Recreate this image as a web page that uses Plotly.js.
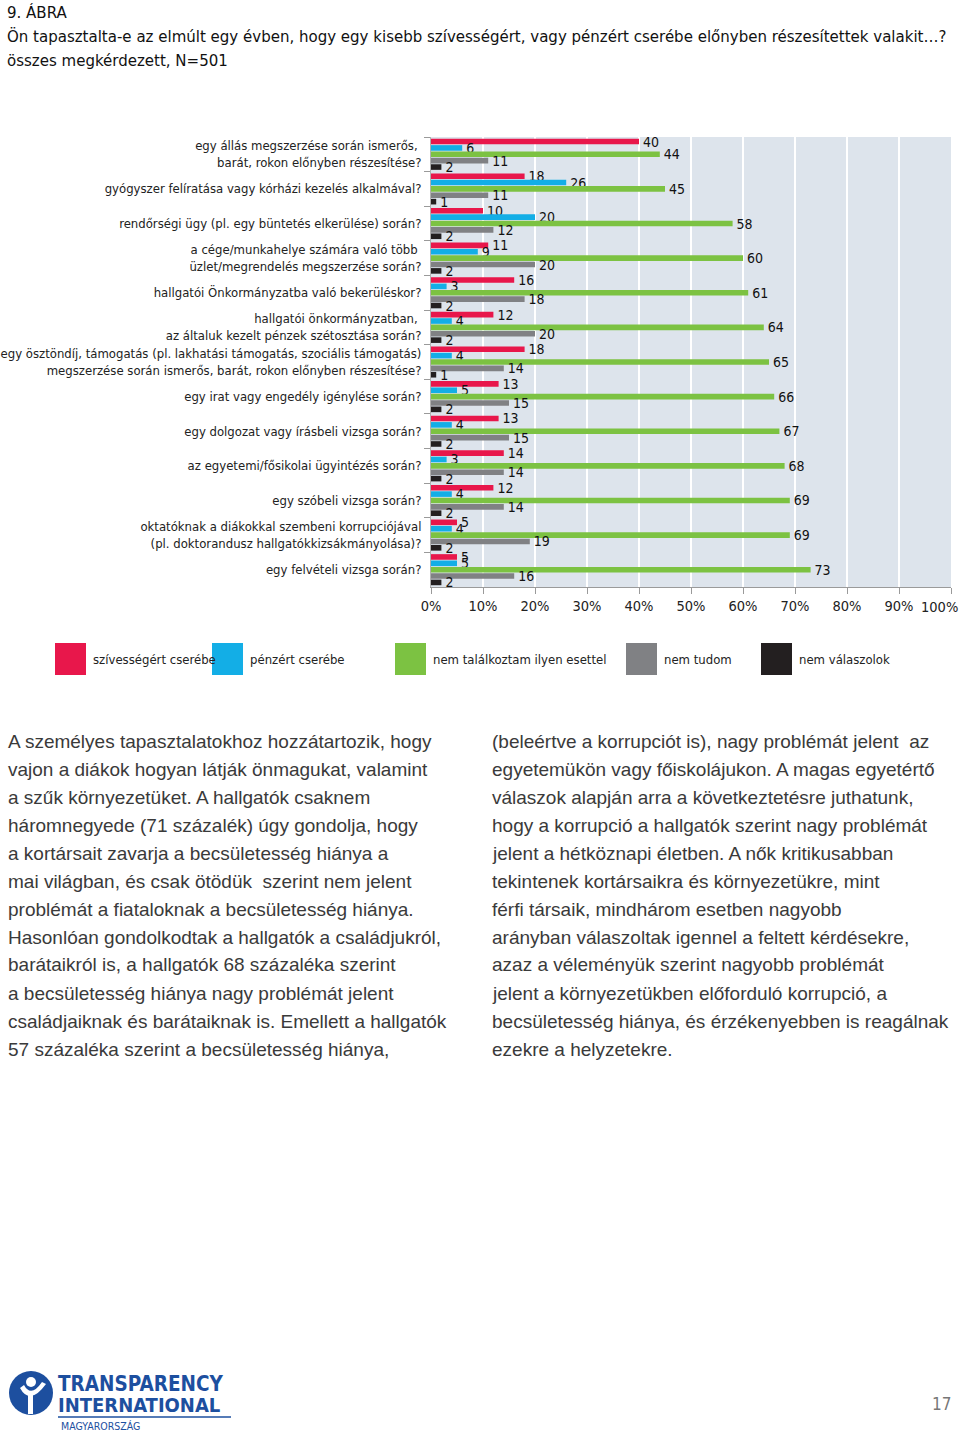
<!DOCTYPE html>
<html>
<head>
<meta charset="utf-8">
<script src="https://cdn.plot.ly/plotly-3.0.1.min.js"></script>
<style>html,body{margin:0;padding:0;background:#fff;}#chart{width:960px;height:1433px;}</style>
</head>
<body>
<div id="chart"></div>
<script>
// ---------- DATA ----------
const categories = [
  "egy állás megszerzése során ismerős, <br>barát, rokon előnyben részesítése?",
  "gyógyszer felíratása vagy kórházi kezelés alkalmával?",
  "rendőrségi ügy (pl. egy büntetés elkerülése) során?",
  "a cége/munkahelye számára való több <br>üzlet/megrendelés megszerzése során?",
  "hallgatói Önkormányzatba való bekerüléskor?",
  "hallgatói önkormányzatban, <br>az általuk kezelt pénzek szétosztása során?",
  "egy ösztöndíj, támogatás (pl. lakhatási támogatás, szociális támogatás)<br>megszerzése során ismerős, barát, rokon előnyben részesítése?",
  "egy irat vagy engedély igénylése során?",
  "egy dolgozat vagy írásbeli vizsga során?",
  "az egyetemi/fősikolai ügyintézés során?",
  "egy szóbeli vizsga során?",
  "oktatóknak a diákokkal szembeni korrupciójával<br>(pl. doktorandusz hallgatókkizsákmányolása)?",
  "egy felvételi vizsga során?"
];
const seriesNames = ["szívességért cserébe", "pénzért cserébe", "nem találkoztam ilyen esettel", "nem tudom", "nem válaszolok"];
const szivessegert = [40, 18, 10, 11, 16, 12, 18, 13, 13, 14, 12, 5, 5];
const penzert      = [6, 26, 20, 9, 3, 4, 4, 5, 4, 3, 4, 4, 5];
const nemTalalkoztam = [44, 45, 58, 60, 61, 64, 65, 66, 67, 68, 69, 69, 73];
const nemTudom     = [11, 11, 12, 20, 18, 20, 14, 15, 15, 14, 14, 19, 16];
const nemValaszolok = [2, 1, 2, 2, 2, 2, 1, 2, 2, 2, 2, 2, 2];
const xTickVals = [0, 10, 20, 30, 40, 50, 60, 70, 80, 90, 100];
const xTickText = ["0%", "10%", "20%", "30%", "40%", "50%", "60%", "70%", "80%", "90%", "100%"];

const titleLines = [
  "9. ÁBRA",
  "Ön tapasztalta-e az elmúlt egy évben, hogy egy kisebb szívességért, vagy pénzért cserébe előnyben részesítettek valakit…?",
  "összes megkérdezett, N=501"
];
const leftColumn = [
  "A személyes tapasztalatokhoz hozzátartozik, hogy",
  "vajon a diákok hogyan látják önmagukat, valamint",
  "a szűk környezetüket. A hallgatók csaknem",
  "háromnegyede (71 százalék) úgy gondolja, hogy",
  "a kortársait zavarja a becsületesség hiánya a",
  "mai világban, és csak ötödük  szerint nem jelent",
  "problémát a fiataloknak a becsületesség hiánya.",
  "Hasonlóan gondolkodtak a hallgatók a családjukról,",
  "barátaikról is, a hallgatók 68 százaléka szerint",
  "a becsületesség hiánya nagy problémát jelent",
  "családjaiknak és barátaiknak is. Emellett a hallgatók",
  "57 százaléka szerint a becsületesség hiánya,"
];
const rightColumn = [
  "(beleértve a korrupciót is), nagy problémát jelent  az",
  "egyetemükön vagy főiskolájukon. A magas egyetértő",
  "válaszok alapján arra a következtetésre juthatunk,",
  "hogy a korrupció a hallgatók szerint nagy problémát",
  "jelent a hétköznapi életben. A nők kritikusabban",
  "tekintenek kortársaikra és környezetükre, mint",
  "férfi társaik, mindhárom esetben nagyobb",
  "arányban válaszoltak igennel a feltett kérdésekre,",
  "azaz a véleményük szerint nagyobb problémát",
  "jelent a környezetükben előforduló korrupció, a",
  "becsületesség hiánya, és érzékenyebben is reagálnak",
  "ezekre a helyzetekre."
];
const logoLines = ["TRANSPARENCY", "INTERNATIONAL", "MAGYARORSZÁG"];
const pageNumber = "17";

// ---------- STYLE ----------
const colors = ["#e8174b", "#13aee6", "#7cc242", "#808184", "#231f20"];
const NARROW = "DejaVu Sans Condensed, Liberation Sans Narrow, sans-serif";
const BODY = "Liberation Sans, Arial, sans-serif";
const W = 960, H = 1433;
const ML = 431, MR = 9, MT = 137, MB = H - 587;
const PW = W - ML - MR, PH = H - MT - MB;
const px = x => (x - ML) / PW;
const py = y => (H - MB - y) / PH;

const allSeries = [szivessegert, penzert, nemTalalkoztam, nemTudom, nemValaszolok];
const traces = allSeries.map((vals, i) => ({
  type: "bar",
  orientation: "h",
  name: seriesNames[i],
  y: categories,
  x: vals,
  marker: {color: colors[i]},
  text: vals.map(v => " " + v),
  textposition: "outside",
  textfont: {family: NARROW, size: 14, color: "#111"},
  cliponaxis: false,
  constraintext: "none",
  hoverinfo: "skip"
}));

const annotations = [];
const shapes = [];
// titles
const titleY = [12, 36, 60];
titleLines.forEach((t, i) => annotations.push({
  xref: "paper", yref: "paper", x: px(5), y: py(titleY[i]), xanchor: "left", yanchor: "middle",
  text: t, showarrow: false, font: {family: NARROW, size: 16.7, color: "#111"}
}));
// last x tick label placed inside the page (right-aligned at its tick)
const lastTick = xTickVals.length - 1;
annotations.push({xref: "x", yref: "paper", x: xTickVals[lastTick], y: py(607), xanchor: "right", yanchor: "middle",
  xshift: 9, text: xTickText[lastTick], showarrow: false, font: {family: NARROW, size: 14.5, color: "#222"}});
// legend
const legX = [55, 212, 395, 626, 761];
seriesNames.forEach((n, i) => {
  shapes.push({type: "rect", xref: "paper", yref: "paper",
    x0: px(legX[i]), x1: px(legX[i] + 31), y0: py(675), y1: py(643),
    fillcolor: colors[i], line: {width: 0}});
  annotations.push({xref: "paper", yref: "paper", x: px(legX[i] + 36), y: py(659),
    xanchor: "left", yanchor: "middle", text: n, showarrow: false,
    font: {family: NARROW, size: 13, color: "#222"}});
});
// body text columns
leftColumn.forEach((t, i) => annotations.push({
  xref: "paper", yref: "paper", x: px(6), y: py(741 + 28 * i), xanchor: "left", yanchor: "middle",
  text: t, showarrow: false, font: {family: BODY, size: 19, color: "#3a3a3a"}
}));
rightColumn.forEach((t, i) => annotations.push({
  xref: "paper", yref: "paper", x: px(490), y: py(741 + 28 * i), xanchor: "left", yanchor: "middle",
  text: t, showarrow: false, font: {family: BODY, size: 19, color: "#3a3a3a"}
}));
// page number
annotations.push({xref: "paper", yref: "paper", x: px(953), y: py(1404), xanchor: "right", yanchor: "middle",
  text: pageNumber, showarrow: false, font: {family: NARROW, size: 17, color: "#777"}});
// logo
const blue = "#1d4f9f";
shapes.push({type: "circle", xref: "paper", yref: "paper", x0: px(9), x1: px(53), y0: py(1415), y1: py(1371),
  fillcolor: blue, line: {width: 0}});
shapes.push({type: "path", xref: "paper", yref: "paper",
  path: `M ${px(20)} ${py(1388)} Q ${px(30)} ${py(1406)} ${px(46)} ${py(1384)} L ${px(42)} ${py(1382)} Q ${px(31)} ${py(1398)} ${px(24)} ${py(1385)} Z`,
  fillcolor: "#fff", line: {width: 0}});
shapes.push({type: "rect", xref: "paper", yref: "paper", x0: px(28), x1: px(33), y0: py(1414), y1: py(1394),
  fillcolor: "#fff", line: {width: 0}});
shapes.push({type: "circle", xref: "paper", yref: "paper", x0: px(26), x1: px(36), y0: py(1387), y1: py(1377),
  fillcolor: "#fff", line: {width: 0}});
shapes.push({type: "line", xref: "paper", yref: "paper", x0: px(58), x1: px(231), y0: py(1417), y1: py(1417),
  line: {color: blue, width: 1.5}});
annotations.push({xref: "paper", yref: "paper", x: px(56), y: py(1384), xanchor: "left", yanchor: "middle",
  text: "<b>" + logoLines[0] + "</b>", showarrow: false, font: {family: NARROW, size: 20.5, color: blue}});
annotations.push({xref: "paper", yref: "paper", x: px(56), y: py(1405), xanchor: "left", yanchor: "middle",
  text: "<b>" + logoLines[1] + "</b>", showarrow: false, font: {family: NARROW, size: 20, color: blue}});
annotations.push({xref: "paper", yref: "paper", x: px(59), y: py(1426), xanchor: "left", yanchor: "middle",
  text: logoLines[2], showarrow: false, font: {family: NARROW, size: 10.5, color: blue}});

const layout = {
  width: W, height: H,
  margin: {l: ML, r: MR, t: MT, b: MB, pad: 0},
  paper_bgcolor: "#ffffff",
  plot_bgcolor: "#dde4ec",
  barmode: "group",
  bargap: 0.08,
  bargroupgap: 0.12,
  showlegend: false,
  xaxis: {
    range: [0, 100], tickvals: xTickVals,
    ticktext: xTickText.map((t, i) => i === lastTick ? "" : t),
    showgrid: true, gridcolor: "#ffffff", gridwidth: 2,
    zeroline: false, showline: true, linecolor: "#9a9a9a", linewidth: 1,
    ticks: "outside", ticklen: 6, tickcolor: "#9a9a9a",
    tickfont: {family: NARROW, size: 14.5, color: "#222"}, fixedrange: true
  },
  yaxis: {
    type: "category", autorange: "reversed",
    showgrid: false, zeroline: false, showline: true, linecolor: "#b0b0b0", linewidth: 1,
    ticks: "outside", tickson: "boundaries", ticklen: 6, tickcolor: "#9a9a9a",
    ticklabelstandoff: 6, ticklabeloverflow: "allow",
    tickfont: {family: NARROW, size: 13, color: "#222"}, fixedrange: true
  },
  annotations: annotations,
  shapes: shapes,
  font: {family: NARROW}
};

Plotly.newPlot("chart", traces, layout, {displayModeBar: false, staticPlot: true});
</script>
</body>
</html>
